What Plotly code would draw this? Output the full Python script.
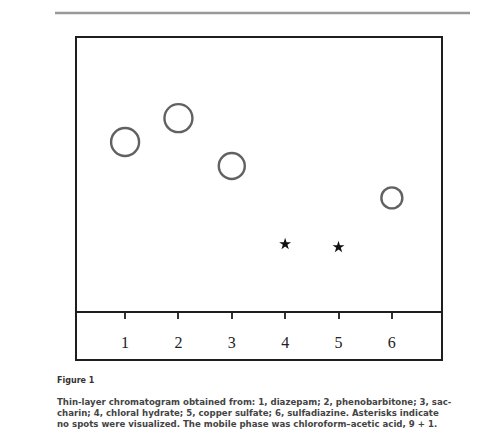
import plotly.graph_objects as go

# ---- data ----
lanes = [1, 2, 3, 4, 5, 6]
tick_labels = ["1", "2", "3", "4", "5", "6"]
spot_lanes = [1, 2, 3, 6]
spot_rf = [0.618, 0.705, 0.531, 0.415]
spot_sizes = [28, 28, 26, 21]
nospot_lanes = [4, 5]
nospot_y = [0.247, 0.236]

caption_title = "Figure 1"
caption_lines = [
    "Thin-layer chromatogram obtained from: 1, diazepam; 2, phenobarbitone; 3, sac-",
    "charin; 4, chloral hydrate; 5, copper sulfate; 6, sulfadiazine. Asterisks indicate",
    "no spots were visualized. The mobile phase was chloroform\u2013acetic acid, 9 + 1.",
]

OFF = 8  # page body margin
W, H = 478 - OFF, 446 - 2 * OFF
# target pixel positions in the window
box_l, box_r, box_t, box_b = 76, 442, 37, 360
base_px = 312
L, R, T, B = box_l - OFF, (W + OFF) - box_r, box_t - OFF, (H + OFF) - box_b
ph = box_b - box_t
pw = box_r - box_l
ymin = -(box_b - base_px) / (base_px - box_t)


def px_x(x):
    return (x - box_l) / pw


def px_y(y):
    return (box_b - y) / ph


fig = go.Figure()
fig.add_trace(go.Scatter(
    x=spot_lanes, y=spot_rf, mode="markers",
    marker=dict(symbol="circle-open", size=spot_sizes, color="#1e1e1e",
                line=dict(width=2.4, color="#1e1e1e")),
    hoverinfo="skip", showlegend=False))
fig.add_trace(go.Scatter(
    x=nospot_lanes, y=nospot_y, mode="markers",
    marker=dict(symbol="star", size=9, color="#111", line=dict(width=0)),
    hoverinfo="skip", showlegend=False))

fig.update_layout(
    width=W, height=H,
    margin=dict(l=L, r=R, t=T, b=B),
    paper_bgcolor="white", plot_bgcolor="white",
    xaxis=dict(range=[0.08, 6.94], tickvals=lanes, ticktext=tick_labels,
               showgrid=False, zeroline=False, showline=True,
               linecolor="#1e1e1e", linewidth=2,
               anchor="free", position=px_y(base_px),
               ticks="outside", ticklen=6, tickwidth=2, tickcolor="#333",
               ticklabelstandoff=10,
               tickfont=dict(family="Liberation Serif", size=16, color="#222")),
    yaxis=dict(range=[ymin, 1], visible=False, showgrid=False, zeroline=False),
)

# frame
fig.add_shape(type="rect", xref="paper", yref="paper", x0=0, x1=1, y0=0, y1=1,
              line=dict(color="#1e1e1e", width=2))
# top rule
fig.add_shape(type="line", xref="paper", yref="paper",
              x0=px_x(55), x1=px_x(478), y0=px_y(13), y1=px_y(13),
              line=dict(color="#999", width=2.5))

fig.add_annotation(text="<b>" + caption_title + "</b>", xref="paper", yref="paper",
                   x=px_x(55), y=px_y(380), xanchor="left", yanchor="middle",
                   showarrow=False, font=dict(family="DejaVu Sans", size=8, color="#333"))
for line, py in zip(caption_lines, [402, 413, 424]):
    fig.add_annotation(text="<b>" + line + "</b>", xref="paper", yref="paper",
                       x=px_x(55), y=px_y(py), xanchor="left", yanchor="middle",
                       showarrow=False, font=dict(family="DejaVu Sans", size=8.6, color="#444"))

fig.write_html("out.html")
